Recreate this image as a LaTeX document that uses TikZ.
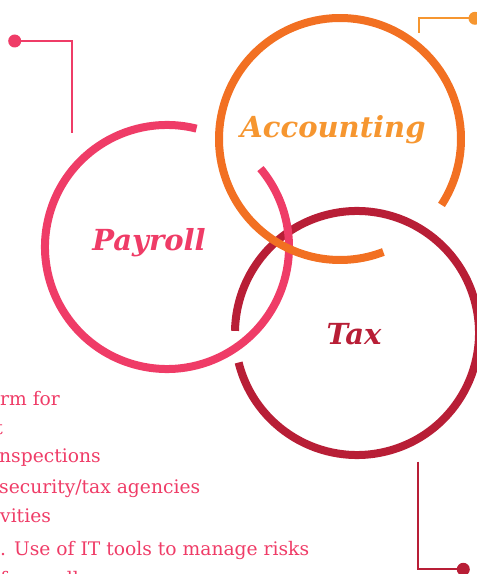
\documentclass[tikz,border=0pt]{standalone}
\usepackage{fontspec}
\setmainfont{DejaVu Serif}
\usepackage{tikz}
\definecolor{paypink}{RGB}{239,60,103}
\definecolor{accorange}{RGB}{242,112,34}
\definecolor{acclight}{RGB}{246,150,48}
\definecolor{taxred}{RGB}{184,30,54}

\begin{document}
\begin{tikzpicture}[x=1pt,y=1pt,
  ring/.style={line width=8pt},
  lead/.style={line width=2pt},
  title/.style={font=\fontsize{29}{34}\selectfont\bfseries\itshape, anchor=base, inner sep=0pt},
  body/.style={font=\fontsize{18.7}{22}\selectfont, text=paypink, anchor=base west, inner sep=0pt}]
\useasboundingbox (0,0) rectangle (477,574);
\clip (0,0) rectangle (477,574);

% Centres
\coordinate (taxc) at (357,241);
\coordinate (payc) at (167,327);
\coordinate (accc) at (340,435);

% Tax
\draw[ring, taxred] (taxc) ++(194:122) arc[start angle=194, end angle=539, radius=122];
\node[title, text=taxred] (taxlabel) at (354,229) {Tax};

% Payroll
\draw[ring, paypink] (payc) ++(76:122) arc[start angle=76, end angle=400, radius=122];
\node[title, text=paypink] (paylabel) at (149,323) {Payroll};

% Accounting
\draw[ring, accorange] (accc) ++(-33:121) arc[start angle=-33, end angle=291, radius=121];
\node[title, text=acclight] (acclabel) at (333,436.5) {Accounting};

% Leaders
\coordinate (paydot) at (14.7,533);
\coordinate (payend) at (71.7,441);
\draw[lead, paypink] (paydot) -| (payend);
\fill[paypink] (paydot) circle (6.5);

\coordinate (accdot) at (475,555.7);
\coordinate (accend) at (419.3,541.3);
\draw[lead, acclight] (accdot) -| (accend);
\fill[acclight] (accdot) circle (6.5);

\coordinate (taxend) at (418.3,112.3);
\coordinate (taxdot) at (463.3,4.7);
\draw[lead, taxred] (taxend) |- (taxdot);
\fill[taxred] (taxdot) circle (6.5);

% Text
\node[body] (line1) at (0,168) {rm for};
\node[body, anchor=base east] (line2) at (3,139) {t};
\node[body] (line3) at (-1,111) {nspections};
\node[body] (line4) at (-1,81) {security/tax agencies};
\node[body] (line5) at (0,51) {vities};
\node[body] (line6) at (0,19) {. Use of IT tools to manage risks};
\node[body] (line7) at (0,-11) {f payroll};
\end{tikzpicture}
\end{document}
